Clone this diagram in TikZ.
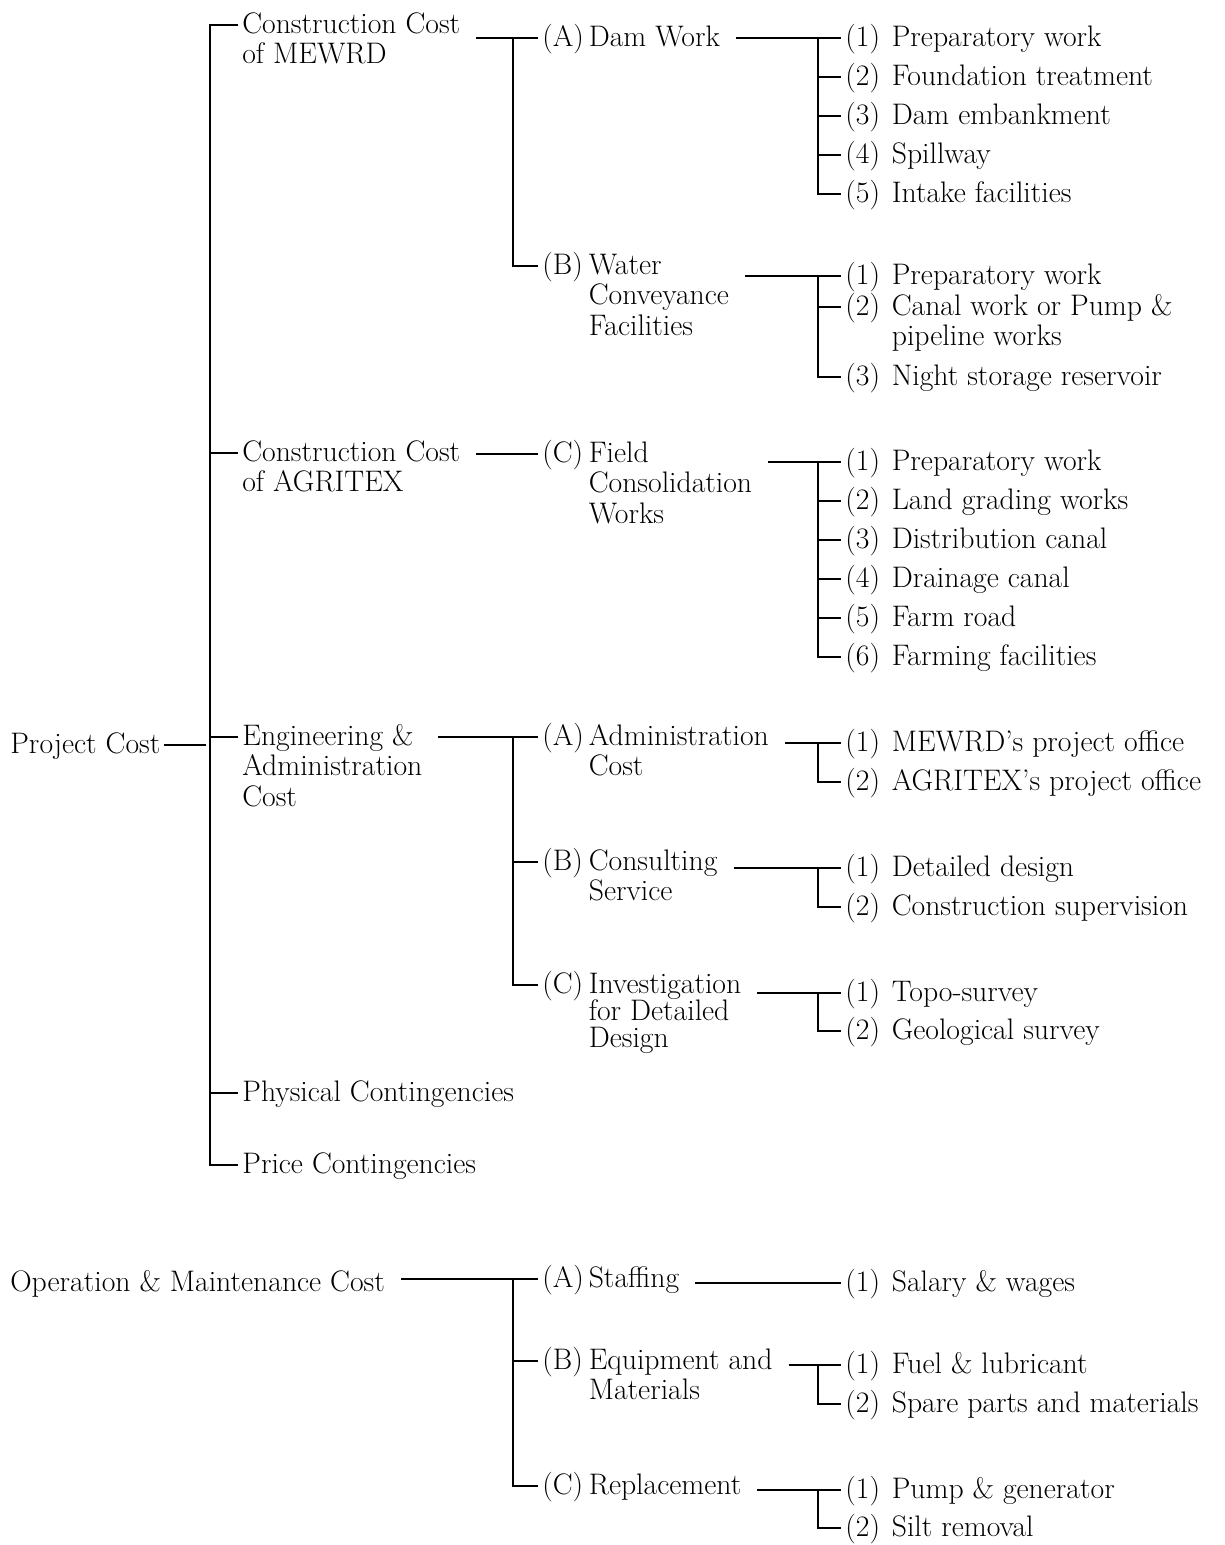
\documentclass[tikz,border=0pt]{standalone}
\usepackage{fontspec}

\newcommand{\blk}[1]{\begin{tabular}[t]{@{}l@{}}#1\end{tabular}}
\newcommand{\ent}[2]{\makebox[0.93cm][l]{#1}\blk{#2}}
\def\ty{4.5pt}

\tikzset{
	txt/.style={anchor=base west, inner xsep=0pt, inner ysep=1pt, font=\fontsize{16.9}{17.6}\selectfont},
	link/.style={line width=0.9pt, shorten >=2pt},
	from/.style={shorten <=9pt},
}

\begin{document}
\begin{tikzpicture}[x=0.02cm, y=-0.02cm]
\useasboundingbox (0,0) rectangle (1224,1545);

%% Stammlinien
\coordinate (sp0) at (210,0);
\coordinate (sp1) at (513,0);
\coordinate (sp2) at (818,0);

%% Ebene 0 und 1
\node[txt] (pc) at (10,753) {Project Cost};
\node[txt] (mewrd) at (242,33) {\blk{Construction Cost\\of MEWRD}};
\node[txt] (agritex) at (242,461) {\blk{Construction Cost\\of AGRITEX}};
\node[txt] (eng) at (242,745) {\blk{Engineering \&\\Administration\\Cost}};
\node[txt] (phys) at (242,1101) {Physical Contingencies};
\node[txt] (price) at (242,1173) {Price Contingencies};
\node[txt] (om) at (10,1291) {Operation \& Maintenance Cost};

%% Ebene 2
\node[txt] (dam) at (542,46) {\ent{(A)}{Dam Work}};
\node[txt] (water) at (542,274) {\ent{(B)}{Water\\Conveyance\\Facilities}};
\node[txt] (field) at (542,462) {\ent{(C)}{Field\\Consolidation\\Works}};
\node[txt] (admin) at (542,745) {\ent{(A)}{Administration\\Cost}};
\node[txt] (consult) at (542,870) {\ent{(B)}{Consulting\\Service}};
\node[txt] (invest) at (542,993) {\ent{(C)}{Investigation\\[-2pt]for Detailed\\[-2pt]Design}};
\node[txt] (staff) at (542,1287) {\ent{(A)}{Staffing}};
\node[txt] (equip) at (542,1369) {\ent{(B)}{Equipment and\\Materials}};
\node[txt] (repl) at (542,1494) {\ent{(C)}{Replacement}};

%% Ebene 3
\node[txt] (d1) at (845,46) {\ent{(1)}{Preparatory work}};
\node[txt] (d2) at (845,85) {\ent{(2)}{Foundation treatment}};
\node[txt] (d3) at (845,124) {\ent{(3)}{Dam embankment}};
\node[txt] (d4) at (845,163) {\ent{(4)}{Spillway}};
\node[txt] (d5) at (845,202) {\ent{(5)}{Intake facilities}};

\node[txt] (w1) at (845,284) {\ent{(1)}{Preparatory work}};
\node[txt] (w2) at (845,315) {\ent{(2)}{Canal work or Pump \&\\pipeline works}};
\node[txt] (w3) at (845,385) {\ent{(3)}{Night storage reservoir}};

\node[txt] (f1) at (845,470) {\ent{(1)}{Preparatory work}};
\node[txt] (f2) at (845,509) {\ent{(2)}{Land grading works}};
\node[txt] (f3) at (845,548) {\ent{(3)}{Distribution canal}};
\node[txt] (f4) at (845,587) {\ent{(4)}{Drainage canal}};
\node[txt] (f5) at (845,626) {\ent{(5)}{Farm road}};
\node[txt] (f6) at (845,665) {\ent{(6)}{Farming facilities}};

\node[txt] (a1) at (845,751) {\ent{(1)}{MEWRD's project office}};
\node[txt] (a2) at (845,790) {\ent{(2)}{AGRITEX's project office}};

\node[txt] (c1) at (845,876) {\ent{(1)}{Detailed design}};
\node[txt] (c2) at (845,915) {\ent{(2)}{Construction supervision}};

\node[txt] (i1) at (845,1001) {\ent{(1)}{Topo-survey}};
\node[txt] (i2) at (845,1039) {\ent{(2)}{Geological survey}};

\node[txt] (s1) at (845,1291) {\ent{(1)}{Salary \& wages}};

\node[txt] (e1) at (845,1373) {\ent{(1)}{Fuel \& lubricant}};
\node[txt] (e2) at (845,1412) {\ent{(2)}{Spare parts and materials}};

\node[txt] (r1) at (845,1498) {\ent{(1)}{Pump \& generator}};
\node[txt] (r2) at (845,1536) {\ent{(2)}{Silt removal}};

%%%%%%%%%%%%%%%%

%% Project Cost
\draw[link, shorten <=2pt] ([yshift=\ty]pc.base east) -- ([yshift=\ty]sp0 |- pc.base);
\draw[link, shorten <=2pt] ([yshift=\ty]mewrd.base west) -- ([yshift=\ty]sp0 |- mewrd.base) -- ([yshift=\ty]sp0 |- price.base) -- ([yshift=\ty]price.base west);
\foreach \n in {agritex,eng,phys}
	\draw[link] ([yshift=\ty]sp0 |- \n.base) -- ([yshift=\ty]\n.base west);

%% MEWRD
\draw[link, from] ([yshift=\ty]mewrd.base east |- dam.base) -- ([yshift=\ty]dam.base west);
\draw[link] ([yshift=\ty]sp1 |- dam.base) -- ([yshift=\ty]sp1 |- water.base) -- ([yshift=\ty]water.base west);

\draw[link, from] ([yshift=\ty]dam.base east |- d1.base) -- ([yshift=\ty]d1.base west);
\draw[link] ([yshift=\ty]sp2 |- d1.base) -- ([yshift=\ty]sp2 |- d5.base) -- ([yshift=\ty]d5.base west);
\foreach \n in {d2,d3,d4}
	\draw[link] ([yshift=\ty]sp2 |- \n.base) -- ([yshift=\ty]\n.base west);

\draw[link, from] ([yshift=\ty]water.base east |- w1.base) -- ([yshift=\ty]w1.base west);
\draw[link] ([yshift=\ty]sp2 |- w1.base) -- ([yshift=\ty]sp2 |- w3.base) -- ([yshift=\ty]w3.base west);
\draw[link] ([yshift=\ty]sp2 |- w2.base) -- ([yshift=\ty]w2.base west);

%% AGRITEX
\draw[link, from] ([yshift=\ty]agritex.base east |- field.base) -- ([yshift=\ty]field.base west);
\draw[link, from] ([yshift=\ty]field.base east |- f1.base) -- ([yshift=\ty]f1.base west);
\draw[link] ([yshift=\ty]sp2 |- f1.base) -- ([yshift=\ty]sp2 |- f6.base) -- ([yshift=\ty]f6.base west);
\foreach \n in {f2,f3,f4,f5}
	\draw[link] ([yshift=\ty]sp2 |- \n.base) -- ([yshift=\ty]\n.base west);

%% Engineering
\draw[link, from] ([yshift=\ty]eng.base east |- admin.base) -- ([yshift=\ty]admin.base west);
\draw[link] ([yshift=\ty]sp1 |- admin.base) -- ([yshift=\ty]sp1 |- invest.base) -- ([yshift=\ty]invest.base west);
\draw[link] ([yshift=\ty]sp1 |- consult.base) -- ([yshift=\ty]consult.base west);

\draw[link, from] ([yshift=\ty]admin.base east |- a1.base) -- ([yshift=\ty]a1.base west);
\draw[link] ([yshift=\ty]sp2 |- a1.base) -- ([yshift=\ty]sp2 |- a2.base) -- ([yshift=\ty]a2.base west);

\draw[link, from] ([yshift=\ty]consult.base east |- c1.base) -- ([yshift=\ty]c1.base west);
\draw[link] ([yshift=\ty]sp2 |- c1.base) -- ([yshift=\ty]sp2 |- c2.base) -- ([yshift=\ty]c2.base west);

\draw[link, from] ([yshift=\ty]invest.base east |- i1.base) -- ([yshift=\ty]i1.base west);
\draw[link] ([yshift=\ty]sp2 |- i1.base) -- ([yshift=\ty]sp2 |- i2.base) -- ([yshift=\ty]i2.base west);

%% Operation & Maintenance
\draw[link, from] ([yshift=\ty]om.base east |- staff.base) -- ([yshift=\ty]staff.base west);
\draw[link] ([yshift=\ty]sp1 |- staff.base) -- ([yshift=\ty]sp1 |- repl.base) -- ([yshift=\ty]repl.base west);
\draw[link] ([yshift=\ty]sp1 |- equip.base) -- ([yshift=\ty]equip.base west);

\draw[link, from] ([yshift=\ty]staff.base east |- s1.base) -- ([yshift=\ty]s1.base west);

\draw[link, from] ([yshift=\ty]equip.base east |- e1.base) -- ([yshift=\ty]e1.base west);
\draw[link] ([yshift=\ty]sp2 |- e1.base) -- ([yshift=\ty]sp2 |- e2.base) -- ([yshift=\ty]e2.base west);

\draw[link, from] ([yshift=\ty]repl.base east |- r1.base) -- ([yshift=\ty]r1.base west);
\draw[link] ([yshift=\ty]sp2 |- r1.base) -- ([yshift=\ty]sp2 |- r2.base) -- ([yshift=\ty]r2.base west);

\end{tikzpicture}
\end{document}
